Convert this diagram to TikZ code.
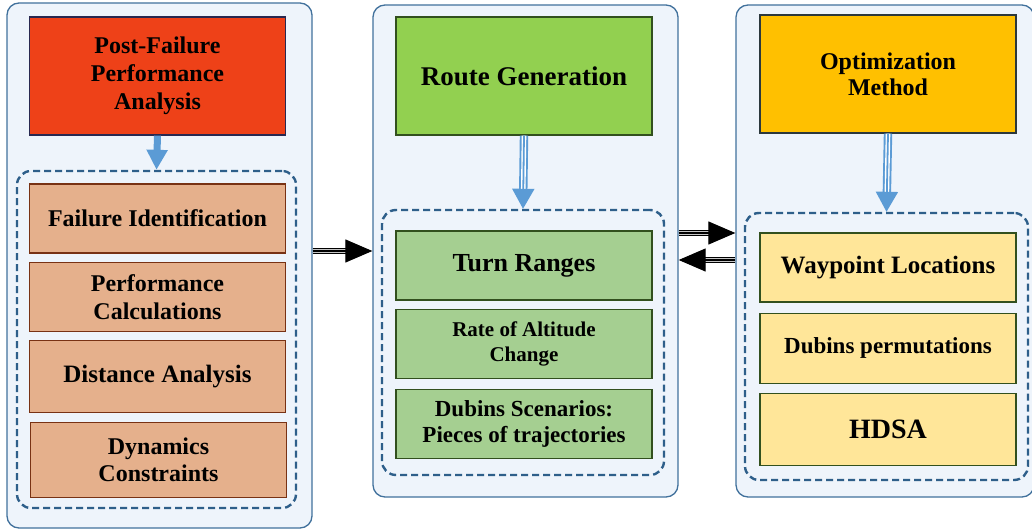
\documentclass[tikz,border=0pt]{standalone}
\usepackage{fontspec}
\setmainfont{Liberation Serif}
\usepackage{tikz}
\usetikzlibrary{arrows.meta,positioning,calc}
\definecolor{pnlfill}{RGB}{238,244,251}
\definecolor{pnlblue}{RGB}{65,113,156}
\definecolor{dashblue}{RGB}{46,95,138}
\definecolor{arrblue}{RGB}{91,155,213}
\definecolor{hdrred}{RGB}{238,65,24}
\definecolor{subtan}{RGB}{229,176,140}
\definecolor{hdrgreen}{RGB}{146,208,80}
\definecolor{subgreen}{RGB}{165,207,145}
\definecolor{hdryellow}{RGB}{255,192,0}
\definecolor{subyellow}{RGB}{255,230,153}
\definecolor{edgenavy}{RGB}{40,40,80}
\definecolor{edgebrown}{RGB}{120,50,20}
\definecolor{edgegreen}{RGB}{50,80,30}
\tikzset{ % box and arrow styles
    panel/.style={rectangle, draw=pnlblue, fill=pnlfill, line width=1.3pt, rounded corners=12pt},
    grp/.style={rectangle, draw=dashblue, line width=2.4pt, dash pattern=on 7pt off 4pt, rounded corners=14pt},
    head/.style={rectangle, draw, line width=1.2pt, align=center, minimum width=256pt, minimum height=118pt, font=\bfseries\fontsize{24}{28}\selectfont},
    sub/.style={rectangle, draw, line width=1.2pt, align=center, minimum width=256pt, minimum height=69pt, font=\bfseries\fontsize{24}{28}\selectfont},
    bluefat/.style={draw=arrblue, line width=7pt, -{Triangle[length=20pt,width=20pt]}},
    bluetrip/.style={draw=arrblue, line width=1.8pt, -{Triangle[length=20pt,width=22pt]},
        preaction={-, draw=arrblue, line width=8.4pt, shorten >=19pt},
        preaction={-, draw=white, line width=4.6pt, shorten >=19pt}},
    blktrip/.style={draw=black, line width=1.1pt, -{Triangle[length=27pt,width=23pt]},
        preaction={-, draw=black, line width=6pt, shorten >=26pt},
        preaction={-, draw=gray!45, line width=3.8pt, shorten >=26pt}}
}
\begin{document}
\begin{tikzpicture}[x=1pt, y=1pt]
	\useasboundingbox (0,0) rectangle (1032,531);
	%Panels
	\node[panel, minimum width=305pt, minimum height=525pt] (p1) at (159.5,265.5) {};
	\node[panel, minimum width=305pt, minimum height=492pt] (p2) at (525.5,280) {};
	\node[panel, minimum width=298pt, minimum height=492pt] (p3) at (885,280) {};
	%Headers
	\node[head, fill=hdrred, draw=edgenavy] (h1) at (157.5,455) {Post-Failure\\Performance\\Analysis};
	\node[head, fill=hdrgreen, draw=edgegreen, font=\bfseries\fontsize{27}{30}\selectfont] (h2) at (524,455) {Route Generation};
	\node[head, fill=hdryellow, draw=edgenavy!60!edgegreen, font=\bfseries\fontsize{24}{26}\selectfont] (h3) at (888,457) {Optimization\\Method};
	%Groups
	\node[grp, minimum width=279pt, minimum height=337pt] (g1) at (156.5,191.5) {};
	\node[grp, minimum width=282pt, minimum height=265pt] (g2) at (523,188.5) {};
	\node[grp, minimum width=283pt, minimum height=267pt] (g3) at (886.5,184.5) {};
	%Items
	\node[sub, fill=subtan, draw=edgebrown] (fi) at (157.5,312.5) {Failure Identification};
	\node[sub, fill=subtan, draw=edgebrown, below=8pt of fi] (pc) {Performance\\Calculations};
	\node[sub, fill=subtan, draw=edgebrown, below=8pt of pc, minimum height=72pt, font=\bfseries\fontsize{25}{28}\selectfont] (da) {Distance Analysis};
	\node[sub, fill=subtan, draw=edgebrown, below=9pt of da, minimum height=75pt, font=\bfseries\fontsize{24}{27}\selectfont, xshift=1pt] (dc) {Dynamics\\Constraints};
	\node[sub, fill=subgreen, draw=edgegreen, font=\bfseries\fontsize{26}{28}\selectfont] (tr) at (524,265.5) {Turn Ranges};
	\node[sub, fill=subgreen, draw=edgegreen, below=8pt of tr, font=\bfseries\fontsize{21}{25}\selectfont] (ra) {Rate of Altitude\\Change};
	\node[sub, fill=subgreen, draw=edgegreen, below=10pt of ra, font=\bfseries\fontsize{23}{26}\selectfont] (ds) {Dubins Scenarios:\\Pieces of trajectories};
	\node[sub, fill=subyellow, draw=edgegreen, font=\bfseries\fontsize{25}{28}\selectfont] (wl) at (888,263.5) {Waypoint Locations};
	\node[sub, fill=subyellow, draw=edgegreen, below=10pt of wl, minimum height=70pt, font=\bfseries\fontsize{23}{26}\selectfont] (dp) {Dubins permutations};
	\node[sub, fill=subyellow, draw=edgegreen, below=9pt of dp, minimum height=72pt, font=\bfseries\fontsize{28}{30}\selectfont] (hd) {HDSA};
	%Arrows
	\draw[bluefat] (h1.south) -- (g1.north);
	\draw[bluetrip] (h2.south) -- (g2.north);
	\draw[bluetrip] (h3.south) -- (g3.north);
	\draw[blktrip] (p1.east |- p2.west) -- (p2.west);
	\draw[blktrip] ([yshift=18pt]p2.east) -- ([yshift=18pt]p3.west);
	\draw[blktrip] ([yshift=-9pt]p3.west) -- ([yshift=-9pt]p2.east);
\end{tikzpicture}
\end{document}
